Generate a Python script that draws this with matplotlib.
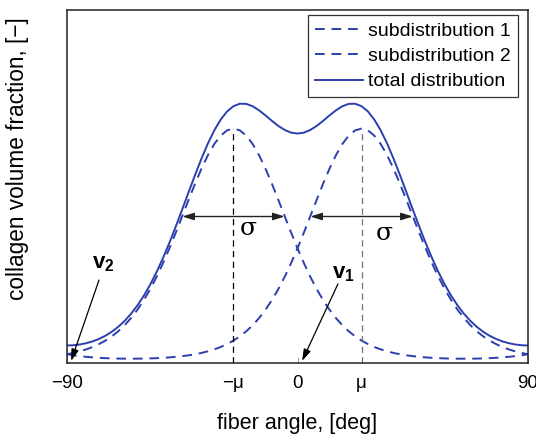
import matplotlib
matplotlib.use("Agg")
import matplotlib.pyplot as plt

plt.rcParams['font.family'] = ['Liberation Sans', 'DejaVu Sans']
plt.rcParams['mathtext.fontset'] = 'custom'
plt.rcParams['mathtext.rm'] = 'Liberation Sans'
plt.rcParams['mathtext.bf'] = 'Liberation Sans:bold'

# fiber angle grid [deg]
angle = [-90 + 2.5 * i for i in range(73)]

# subdistribution 1 (peak at -mu)
sub1 = [0.0248, 0.0285, 0.0331, 0.0386, 0.0453, 0.0536, 0.0635, 0.0755, 0.0899, 0.1070,
        0.1272, 0.1508, 0.1781, 0.2092, 0.2443, 0.2830, 0.3250, 0.3696, 0.4159, 0.4625,
        0.5079, 0.5505, 0.5885, 0.6203, 0.6441, 0.6590, 0.6640, 0.6590, 0.6441, 0.6203,
        0.5885, 0.5505, 0.5079, 0.4625, 0.4159, 0.3696, 0.3250, 0.2830, 0.2443, 0.2092,
        0.1781, 0.1508, 0.1272, 0.1070, 0.0899, 0.0755, 0.0635, 0.0536, 0.0453, 0.0386,
        0.0331, 0.0285, 0.0248, 0.0218, 0.0194, 0.0175, 0.0159, 0.0147, 0.0137, 0.0130,
        0.0125, 0.0123, 0.0122, 0.0123, 0.0125, 0.0130, 0.0137, 0.0147, 0.0159, 0.0175,
        0.0194, 0.0218, 0.0248]

# subdistribution 2 (peak at +mu)
sub2 = [0.0248, 0.0218, 0.0194, 0.0175, 0.0159, 0.0147, 0.0137, 0.0130, 0.0125, 0.0123,
        0.0122, 0.0123, 0.0125, 0.0130, 0.0137, 0.0147, 0.0159, 0.0175, 0.0194, 0.0218,
        0.0248, 0.0285, 0.0331, 0.0386, 0.0453, 0.0536, 0.0635, 0.0755, 0.0899, 0.1070,
        0.1272, 0.1508, 0.1781, 0.2092, 0.2443, 0.2830, 0.3250, 0.3696, 0.4159, 0.4625,
        0.5079, 0.5505, 0.5885, 0.6203, 0.6441, 0.6590, 0.6640, 0.6590, 0.6441, 0.6203,
        0.5885, 0.5505, 0.5079, 0.4625, 0.4159, 0.3696, 0.3250, 0.2830, 0.2443, 0.2092,
        0.1781, 0.1508, 0.1272, 0.1070, 0.0899, 0.0755, 0.0635, 0.0536, 0.0453, 0.0386,
        0.0331, 0.0285, 0.0248]

# total distribution
total = [0.0496, 0.0503, 0.0525, 0.0561, 0.0612, 0.0683, 0.0772, 0.0885, 0.1024, 0.1193,
         0.1394, 0.1631, 0.1906, 0.2222, 0.2580, 0.2977, 0.3409, 0.3871, 0.4353, 0.4843,
         0.5327, 0.5790, 0.6216, 0.6589, 0.6894, 0.7126, 0.7275, 0.7345, 0.7340, 0.7273,
         0.7157, 0.7013, 0.6860, 0.6717, 0.6602, 0.6526, 0.6500, 0.6526, 0.6602, 0.6717,
         0.6860, 0.7013, 0.7157, 0.7273, 0.7340, 0.7345, 0.7275, 0.7126, 0.6894, 0.6589,
         0.6216, 0.5790, 0.5327, 0.4843, 0.4353, 0.3871, 0.3409, 0.2977, 0.2580, 0.2222,
         0.1906, 0.1631, 0.1394, 0.1193, 0.1024, 0.0885, 0.0772, 0.0683, 0.0612, 0.0561,
         0.0525, 0.0503, 0.0496]

mu = 25
peak = 0.664
sigma_level = 0.415
sigma_left = [-45, -5]
sigma_right = [5, 45]

tick_pos = [-90, -mu, 0, mu, 90]
tick_labels = ['\u221290', '\u2212\u03bc', '0', '\u03bc', '90']

blue = '#2b3fae'

fig = plt.figure(figsize=(5.36, 4.40), dpi=100)
ax = fig.add_axes([67/536, 1 - 363/440, (528-67)/536, (363-10)/440])

ax.plot(angle, sub1, '--', color=blue, lw=1.4, dashes=(5, 3.5), label='subdistribution 1')
ax.plot(angle, sub2, '--', color=blue, lw=1.4, dashes=(5, 3.5), label='subdistribution 2')
ax.plot(angle, total, '-', color=blue, lw=1.4, label='total distribution')

ax.plot([-mu, -mu], [0, peak], '--', color='black', lw=0.9, dashes=(5, 3.5))
ax.plot([mu, mu], [0, peak], '--', color='#707070', lw=0.9, dashes=(5, 3.5))

arrow_kw = dict(arrowstyle='<|-|>,head_length=0.7,head_width=0.22', color='#222222', lw=1.0,
                shrinkA=0, shrinkB=0)
ax.annotate('', xy=(sigma_left[0], sigma_level), xytext=(sigma_left[1], sigma_level), arrowprops=arrow_kw)
ax.annotate('', xy=(sigma_right[0], sigma_level), xytext=(sigma_right[1], sigma_level), arrowprops=arrow_kw)
ax.text(-19.3, 0.38, '\u03c3', fontsize=18, ha='center', va='center', family='DejaVu Serif')
ax.text(33.8, 0.368, '\u03c3', fontsize=18, ha='center', va='center', family='DejaVu Serif')

v_kw = dict(arrowstyle='-|>,head_length=0.7,head_width=0.22', color='black', lw=0.9,
            shrinkA=0, shrinkB=0)
ax.annotate('', xy=(1.8, 0.006), xytext=(15.8, 0.224), arrowprops=v_kw)
ax.annotate('', xy=(-88.4, 0.006), xytext=(-77.5, 0.235), arrowprops=v_kw)
ax.text(13.6, 0.254, r'$\mathbf{v_1}$', fontsize=16, ha='left', va='center')
ax.text(-80.2, 0.283, r'$\mathbf{v_2}$', fontsize=16, ha='left', va='center')

ax.set_xlim(-90, 90)
ax.set_ylim(0, 1)
ax.set_xticks(tick_pos)
ax.set_xticklabels(tick_labels, fontsize=13.5)
ax.set_yticks([])
ax.tick_params(axis='x', direction='in', length=4, width=0.6, color='#888888', pad=9)
for s in ax.spines.values():
    s.set_linewidth(1.1)
    s.set_color('#222222')

ax.set_xlabel('fiber angle, [deg]', fontsize=15.5, labelpad=15)
ax.set_ylabel('collagen volume fraction, [\u2212]', fontsize=16.3)
ax.yaxis.set_label_coords(-0.083, 0.58)

leg = ax.legend(loc='upper right', fontsize=14, frameon=True, fancybox=False,
                handlelength=2.5, handletextpad=0.25, borderpad=0.35, labelspacing=0.4,
                borderaxespad=0, bbox_to_anchor=(0.978, 0.985))
leg.get_frame().set_edgecolor('black')
leg.get_frame().set_linewidth(0.9)

fig.savefig('out.png', dpi=100)
